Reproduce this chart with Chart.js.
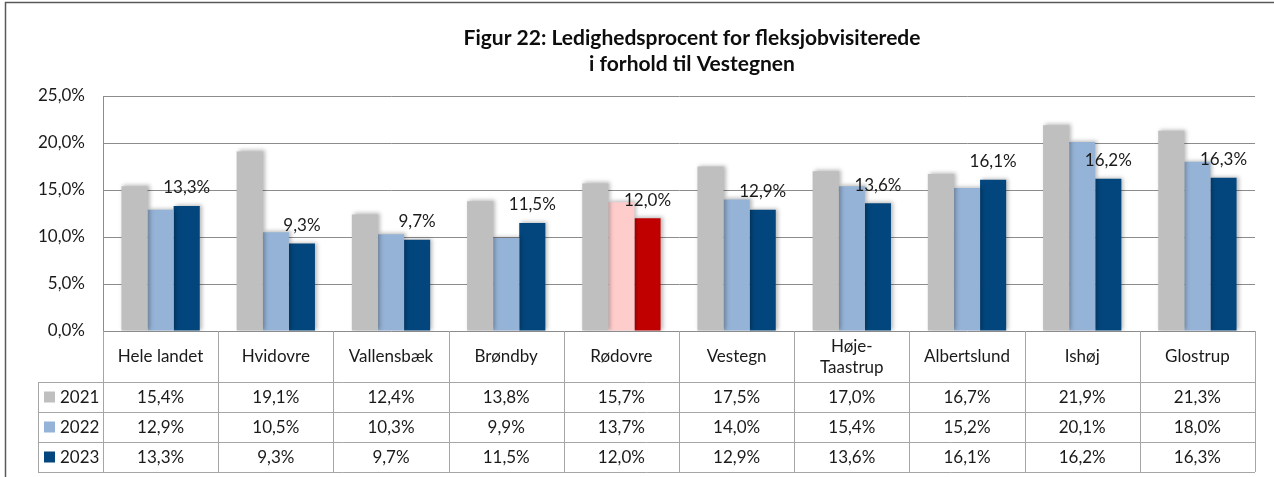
<!DOCTYPE html>
<html>
<head>
<meta charset="utf-8">
<script src="https://cdn.jsdelivr.net/npm/chart.js"></script>
<style>
  html, body { margin: 0; padding: 0; background: #fff; }
  #wrap { width: 1274px; height: 477px; }
</style>
</head>
<body>
<div id="wrap"><canvas id="c" width="1274" height="477"></canvas></div>
<script>
const categories = ['Hele landet', 'Hvidovre', 'Vallensbæk', 'Brøndby', 'Rødovre', 'Vestegn', ['Høje-', 'Taastrup'], 'Albertslund', 'Ishøj', 'Glostrup'];
const years = ['2021', '2022', '2023'];
const values2021 = [15.4, 19.1, 12.4, 13.8, 15.7, 17.5, 17.0, 16.7, 21.9, 21.3];
const values2022 = [12.9, 10.5, 10.3, 9.9, 13.7, 14.0, 15.4, 15.2, 20.1, 18.0];
const values2023 = [13.3, 9.3, 9.7, 11.5, 12.0, 12.9, 13.6, 16.1, 16.2, 16.3];
const yTicks = [0, 5, 10, 15, 20, 25];
const titleLines = ['Figur 22: Ledighedsprocent for fleksjobvisiterede', 'i forhold til Vestegnen'];

const seriesColors = ['#BFBFBF', '#95B3D7', '#03467D'];
const highlightIndex = 4; // Rødovre
const highlightColors = ['#BFBFBF', '#FFCCCC', '#C00000'];

const FONT = 'Lato, Calibri, "DejaVu Sans", sans-serif';
const fmt = v => v.toFixed(1).replace('.', ',') + '%';

function colorsFor(s) {
  return categories.map((_, i) => i === highlightIndex ? highlightColors[s] : seriesColors[s]);
}

const allSeries = [values2021, values2022, values2023];

const shadowPlugin = {
  id: 'shadow',
  beforeDatasetsDraw(chart) {
    const ctx = chart.ctx;
    ctx.save();
    ctx.shadowColor = 'rgba(0,0,0,0.28)';
    ctx.shadowBlur = 4;
    ctx.shadowOffsetX = 2;
    ctx.shadowOffsetY = -1;
  },
  afterDatasetsDraw(chart) {
    chart.ctx.restore();
  }
};

const labelPlugin = {
  id: 'labels2023',
  afterDatasetsDraw(chart) {
    const ctx = chart.ctx;
    const meta = chart.getDatasetMeta(2);
    ctx.save();
    ctx.font = '17px ' + FONT;
    ctx.fillStyle = '#1a1a1a';
    ctx.textAlign = 'center';
    ctx.textBaseline = 'middle';
    meta.data.forEach((bar, i) => {
      ctx.fillText(fmt(values2023[i]), bar.x, bar.y - 18);
    });
    ctx.restore();
  }
};

const tablePlugin = {
  id: 'dataTable',
  afterDraw(chart) {
    const ctx = chart.ctx;
    const area = chart.chartArea;
    const xs = chart.scales.x;
    const n = categories.length;
    const w = area.width / n;
    const top = area.bottom;
    const catBottom = top + 51;
    const rowH = 30;
    const bottom = catBottom + rowH * 3;
    const legLeft = 38;
    const line = '#A6A6A6';

    ctx.save();
    // outer frame
    ctx.strokeStyle = '#595959';
    ctx.lineWidth = 1.5;
    ctx.beginPath();
    ctx.moveTo(5.5, 480);
    ctx.lineTo(5.5, 2.5);
    ctx.lineTo(1280, 2.5);
    ctx.stroke();

    // title
    ctx.fillStyle = '#0d0d0d';
    ctx.font = 'bold 21px ' + FONT;
    ctx.textAlign = 'center';
    ctx.textBaseline = 'middle';
    const tx = 692;
    ctx.fillText(titleLines[0], tx, 38);
    ctx.fillText(titleLines[1], tx, 64);

    ctx.strokeStyle = line;
    ctx.lineWidth = 1;
    ctx.beginPath();
    for (let i = 0; i <= n; i++) {
      const x = Math.round(area.left + i * w) + 0.5;
      ctx.moveTo(x, top);
      ctx.lineTo(x, bottom);
    }
    ctx.moveTo(legLeft + 0.5, catBottom);
    ctx.lineTo(legLeft + 0.5, bottom);
    for (let r = 0; r <= 3; r++) {
      const y = Math.round(catBottom + r * rowH) + 0.5;
      ctx.moveTo(legLeft, y);
      ctx.lineTo(area.right, y);
    }
    ctx.stroke();

    ctx.fillStyle = '#1a1a1a';
    ctx.font = '17px ' + FONT;
    categories.forEach((c, i) => {
      const cx = xs.getPixelForValue(i);
      const cy = (top + catBottom) / 2;
      if (Array.isArray(c)) {
        ctx.fillText(c[0], cx, cy - 10);
        ctx.fillText(c[1], cx, cy + 11);
      } else {
        ctx.fillText(c, cx, cy);
      }
      allSeries.forEach((vals, s) => {
        ctx.fillText(fmt(vals[i]), cx, catBottom + rowH * s + rowH / 2 + 1);
      });
    });

    years.forEach((y, s) => {
      const cy = catBottom + rowH * s + rowH / 2;
      ctx.fillStyle = seriesColors[s];
      ctx.fillRect(44, cy - 5.5, 11, 11);
      ctx.fillStyle = '#1a1a1a';
      ctx.textAlign = 'left';
      ctx.fillText(y, 60, cy + 1);
    });
    ctx.restore();
  }
};

new Chart(document.getElementById('c'), {
  type: 'bar',
  data: {
    labels: categories,
    datasets: years.map((y, s) => ({
      label: y,
      data: allSeries[s],
      backgroundColor: colorsFor(s),
      borderWidth: 0,
      barPercentage: 1,
      categoryPercentage: 0.68
    }))
  },
  options: {
    responsive: false,
    animation: false,
    devicePixelRatio: 1,
    layout: { padding: { left: 0, right: 19, top: 96, bottom: 146 } },
    plugins: {
      legend: { display: false },
      tooltip: { enabled: false },
      title: { display: false }
    },
    scales: {
      x: { display: false },
      y: {
        min: 0,
        max: 25,
        afterBuildTicks: axis => { axis.ticks = yTicks.map(v => ({ value: v })); },
        afterFit: axis => { axis.width = 103; },
        grid: { color: '#8C8C8C', lineWidth: 1, drawTicks: false },
        border: { display: true, color: '#8C8C8C', width: 1 },
        ticks: {
          padding: 18,
          color: '#1a1a1a',
          font: { family: FONT, size: 17 },
          callback: v => fmt(v)
        }
      }
    }
  },
  plugins: [shadowPlugin, labelPlugin, tablePlugin]
});
</script>
</body>
</html>
